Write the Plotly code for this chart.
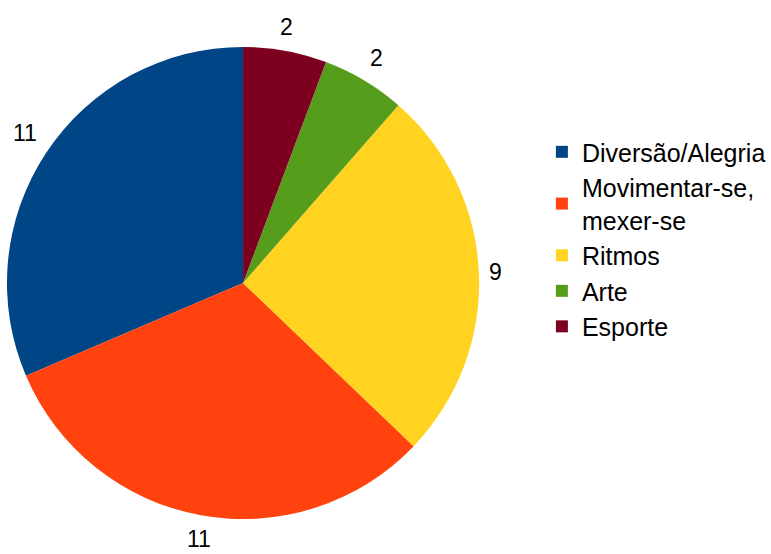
import math
import plotly.graph_objects as go

labels = ["Diversão/Alegria", "Movimentar-se,<br>mexer-se", "Ritmos", "Arte", "Esporte"]
values = [11, 11, 9, 2, 2]
colors = ["#004586", "#ff420e", "#ffd320", "#579d1c", "#7e0021"]

W, H = 771, 554
cx, cy, r = 244, 283, 237
gap = 8
total = sum(values)

fig = go.Figure(go.Pie(
    labels=labels, values=values, sort=False, direction="counterclockwise",
    rotation=-360 * values[0] / total,
    marker=dict(colors=colors, line=dict(width=0)),
    textinfo="none",
    domain=dict(x=[(cx - r) / W, (cx + r) / W], y=[1 - (cy + r) / H, 1 - (cy - r) / H]),
    hoverinfo="label+value",
))

cum = 0
for v in values:
    mid = (cum + v / 2) / total * 2 * math.pi
    cum += v
    s, c = -math.sin(mid), math.cos(mid)   # counterclockwise from 12 o'clock
    px = cx + (r + gap) * s
    py = cy - (r + gap) * c
    xa = "left" if s > 0.3 else ("right" if s < -0.3 else "center")
    ya = "bottom" if c > 0.3 else ("top" if c < -0.3 else "middle")
    fig.add_annotation(x=px / W, y=1 - py / H, xref="paper", yref="paper",
                       text=str(v), showarrow=False, xanchor=xa, yanchor=ya,
                       font=dict(family="Liberation Sans, Arial", size=23, color="black"))

fig.update_layout(
    width=W, height=H, margin=dict(l=0, r=0, t=0, b=0),
    paper_bgcolor="white", plot_bgcolor="white",
    font=dict(family="Liberation Sans, Arial", size=25, color="black"),
    legend=dict(x=0.7056, y=0.767, xanchor="left", yanchor="top",
                font=dict(size=25), itemsizing="constant"),
)
fig.write_html("out.html")
